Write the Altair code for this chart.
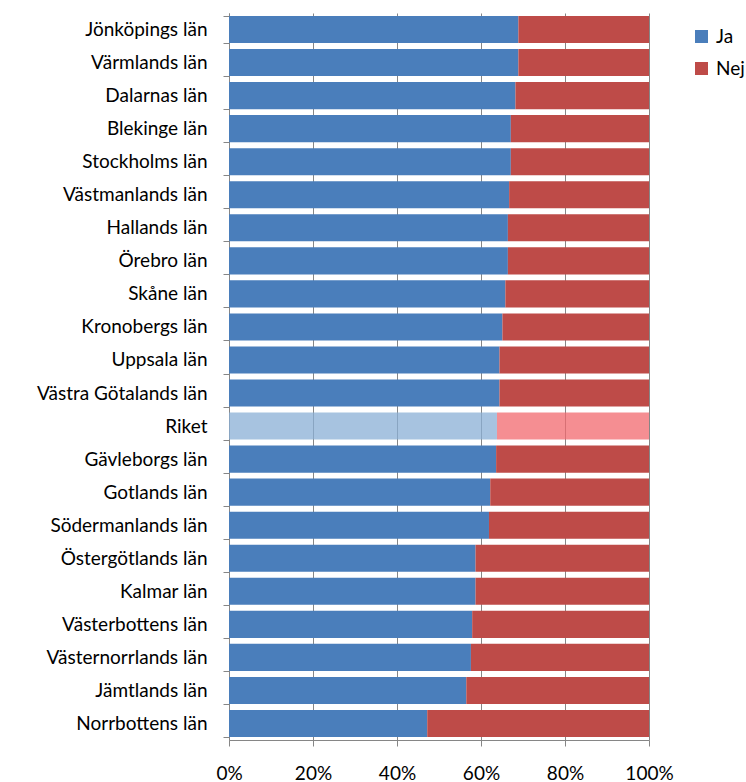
import altair as alt
import pandas as pd

lan = ["Jönköpings län", "Värmlands län", "Dalarnas län", "Blekinge län", "Stockholms län",
       "Västmanlands län", "Hallands län", "Örebro län", "Skåne län", "Kronobergs län",
       "Uppsala län", "Västra Götalands län", "Riket", "Gävleborgs län", "Gotlands län",
       "Södermanlands län", "Östergötlands län", "Kalmar län", "Västerbottens län",
       "Västernorrlands län", "Jämtlands län", "Norrbottens län"]
ja = [0.689, 0.689, 0.682, 0.671, 0.671, 0.667, 0.664, 0.664, 0.658, 0.651, 0.644, 0.644,
      0.638, 0.636, 0.622, 0.619, 0.587, 0.587, 0.579, 0.576, 0.565, 0.472]
nej = [0.311, 0.311, 0.318, 0.329, 0.329, 0.333, 0.336, 0.336, 0.342, 0.349, 0.356, 0.356,
       0.362, 0.364, 0.378, 0.381, 0.413, 0.413, 0.421, 0.424, 0.435, 0.528]
svar = ["Ja", "Nej"]

rows = []
for i, name in enumerate(lan):
    for s, v in zip(svar, [ja[i], nej[i]]):
        key = s + (" Riket" if name == "Riket" else "")
        rows.append({"lan": name, "svar": s, "andel": v, "key": key,
                     "ord": svar.index(s)})
df = pd.DataFrame(rows)

FONT = "Lato"
FS = 19

chart = alt.Chart(df).mark_bar(strokeWidth=0).encode(
    y=alt.Y("lan:N", sort=lan, title=None,
            scale=alt.Scale(paddingInner=0.18, paddingOuter=0.09),
            axis=alt.Axis(tickBand="extent", labelFontSize=FS, labelFont=FONT,
                          labelColor="#000000", labelPadding=16, tickSize=6,
                          tickColor="#868686", domainColor="#868686", grid=False)),
    x=alt.X("andel:Q", stack="normalize", title=None,
            scale=alt.Scale(domain=[0, 1], nice=False),
            axis=alt.Axis(format="%", values=[0, 0.2, 0.4, 0.6, 0.8, 1.0],
                          labelFontSize=FS, labelFont=FONT, labelColor="#000000",
                          labelPadding=18, tickSize=6, tickColor="#868686",
                          labelFlush=False,
                          domainColor="#868686", gridColor="#868686",
                          gridOpacity=1, grid=True)),
    color=alt.Color("key:N",
                    scale=alt.Scale(domain=["Ja", "Nej", "Ja Riket", "Nej Riket"],
                                    range=["#4A7EBB", "#BE4B48", "#8AAFD6", "#F2686D"]),
                    legend=alt.Legend(title=None, values=["Ja", "Nej"], orient="none",
                                      legendX=463, legendY=14, symbolType="square",
                                      symbolSize=169, symbolStrokeWidth=0,
                                      labelFontSize=FS, labelFont=FONT,
                                      labelColor="#000000", rowPadding=12,
                                      labelOffset=5)),
    opacity=alt.condition(alt.datum.lan == "Riket", alt.value(0.75), alt.value(1.0)),
    order=alt.Order("ord:Q"),
).properties(
    width=420, height=727,
    autosize=alt.AutoSizeParams(type="none"),
    padding={"left": 229, "top": 13, "right": 97, "bottom": 42},
).configure_view(stroke=None).configure_axis(gridWidth=1)

chart.save("out.html", embed_options={"renderer": "svg", "actions": False})
